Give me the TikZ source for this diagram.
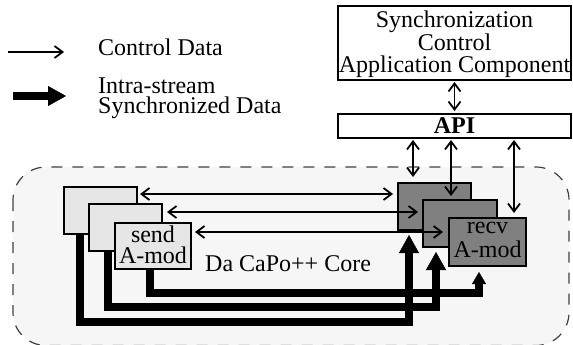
\documentclass[tikz,border=0pt]{standalone}
\usepackage{fontspec}
\setmainfont{Liberation Serif}
\usetikzlibrary{arrows.meta}
\definecolor{corefill}{HTML}{F6F6F6}
\definecolor{sendfill}{HTML}{E6E6E6}
\definecolor{recvfill}{HTML}{808080}
\pgfdeclarelayer{area}
\pgfdeclarelayer{streams}
\pgfsetlayers{area,streams,main}
\begin{document}
\begin{tikzpicture}[x=1pt,y=-1pt,
  every node/.style={font=\fontsize{24}{21}\selectfont, inner sep=0pt},
  modbox/.style={draw=black, line width=2pt, outer sep=0pt, inner sep=0pt, align=center},
  sendbox/.style={modbox, fill=sendfill},
  recvbox/.style={modbox, fill=recvfill},
  wbox/.style={modbox, fill=white},
  barb/.tip={Straight Barb[length=8pt,width=12pt]},
  ctrl/.style={line width=1.8pt, barb-barb},
  ctrlone/.style={line width=1.8pt, -barb},
  data/.style={line width=7.5pt, line join=miter,
    -{Triangle[length=18pt,width=20pt,line width=0.4pt]}},
  datasmall/.style={line width=7.5pt, line join=miter,
    -{Triangle[length=12pt,width=14pt,line width=0.4pt]}},
  core/.style={fill=corefill, draw=black!75, line width=1.2pt,
    dash pattern=on 11pt off 10pt, rounded corners=33pt}]
\useasboundingbox (0,0) rectangle (573,345);

% legend
\coordinate (cA) at (8,52);
\coordinate (cB) at (64,52);
\draw[ctrlone] (cA) -- (cB);
\node[anchor=base west] (ctrltxt) at (98,56) {Control Data};
\coordinate (dA) at (13,96);
\coordinate (dB) at (66,96);
\draw[line width=8pt, -{Triangle[length=18pt,width=20pt,line width=0.4pt]}] (dA) -- (dB);
\node[anchor=north west, align=left] (datatxt) at (98,77.6)
  {Intra-stream\\[-1pt]Synchronized Data};

% application component and API
\node[wbox, minimum width=233pt, minimum height=74pt] (app) at (454.5,43)
  {\rule{0pt}{19pt}Synchronization\\[1pt]Control\\[1pt]Application Component};
\node[wbox, minimum width=233pt, minimum height=24pt] (API) at (454.5,126)
  {\textbf{API}};
\draw[ctrl, shorten <=2pt, shorten >=3pt] (app.south) -- (API.north);

% Da CaPo++ core area
\begin{pgfonlayer}{area}
\draw[core] (13,167) rectangle (569,345.5);
\end{pgfonlayer}
\node[anchor=base west] (coretxt) at (205,271.7) {Da CaPo++ Core};

% send modules
\node[sendbox, minimum width=73pt, minimum height=47pt] (L1) at (100.5,210.5) {};
\node[sendbox, minimum width=73pt, minimum height=47pt] (L2) at (125.5,227.5) {};
\node[sendbox, minimum width=76pt, minimum height=46pt] (L3) at (153,246)
  {\rule{0pt}{17pt}send\\A-mod\rule[-4pt]{0pt}{4pt}};

% receive modules
\node[recvbox, minimum width=73pt, minimum height=47pt] (R1) at (434.5,206.5) {};
\node[recvbox, minimum width=74pt, minimum height=47pt] (R2) at (460,223.5) {};
\node[recvbox, minimum width=77pt, minimum height=48pt] (R3) at (487.5,242)
  {\rule{0pt}{12pt}recv\\[3pt]A-mod\rule[-6pt]{0pt}{6pt}};

% intra-stream synchronized data
\begin{pgfonlayer}{streams}
\draw[data] ([xshift=16pt]L1.south west) -- ++(0,88)
  -| ([xshift=11pt,yshift=-5pt]R1.south west);
\draw[data] ([xshift=19pt]L2.south west) -- ++(0,56)
  -| ([xshift=13pt,yshift=-5pt]R2.south west);
\draw[datasmall] ([xshift=35pt]L3.south west) -- ++(0,24)
  -| ([xshift=30pt,yshift=-6pt]R3.south west);
\end{pgfonlayer}

% control data
\draw[ctrl, shorten <=3pt, shorten >=5pt]
  ([yshift=-7pt]L1.north east) -- ([yshift=-7pt]L1.north east -| R1.west);
\draw[ctrl, shorten <=5pt, shorten >=5pt]
  ([yshift=-8pt]L2.north east) -- ([yshift=-8pt]L2.north east -| R2.west);
\draw[ctrl, shorten <=4pt, shorten >=6pt]
  ([yshift=-9pt]L3.north east) -- ([yshift=-9pt]L3.north east -| R3.west);

\draw[ctrl, shorten <=2pt, shorten >=6pt]
  ([xshift=15pt]R1.north west |- API.south) -- ([xshift=15pt]R1.north west);
\draw[ctrl, shorten <=2pt, shorten >=4pt]
  ([xshift=28pt]R2.north west |- API.south) -- ([xshift=28pt]R2.north west);
\draw[ctrl, shorten <=2pt, shorten >=5pt]
  ([xshift=65pt]R3.north west |- API.south) -- ([xshift=65pt]R3.north west);
\end{tikzpicture}
\end{document}
